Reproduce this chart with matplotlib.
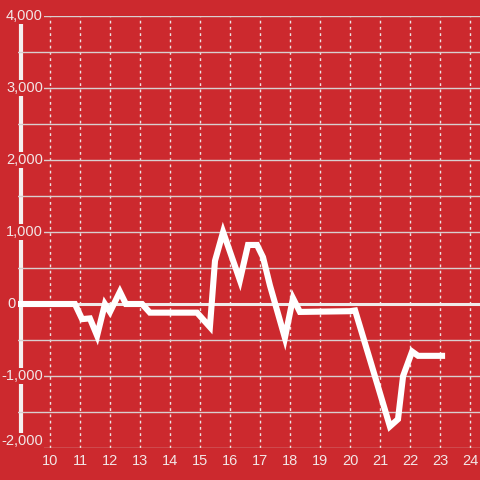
import matplotlib
matplotlib.use("Agg")
import matplotlib.pyplot as plt

plt.rcParams['font.family'] = ['Liberation Sans', 'DejaVu Sans']

# data
hours = [8.93, 10.83, 11.07, 11.33, 11.57, 11.83, 12.0, 12.33, 12.53, 13.07, 13.33,
         14.9, 15.33, 15.5, 15.77, 16.33, 16.6, 16.9, 17.1, 17.33, 17.83, 18.1,
         18.33, 20.0, 20.17, 20.67, 21.33, 21.6, 21.77, 22.07, 22.27, 23.17]
values = [0, 0, -210, -200, -440, 0, -110, 170, 0, 0, -120,
          -120, -320, 600, 1000, 330, 820, 820, 650, 260, -470, 80,
          -110, -100, -90, -780, -1700, -1600, -1000, -660, -720, -720]
x_ticks = list(range(10, 25))
y_major = [-2000, -1000, 0, 1000, 2000, 3000, 4000]
y_minor = [-1500, -500, 500, 1500, 2500, 3500]
y_labels = ["-2,000", "-1,000", "0", "1,000", "2,000", "3,000", "4,000"]

bg = '#CC292E'
txt = '#F2E6E6'

W = 480.0
ax_left_px, ax_w_px = 18, 462
fig = plt.figure(figsize=(4.8, 4.8), dpi=100, facecolor=bg)
ax = fig.add_axes([ax_left_px/W, 32/W, ax_w_px/W, 432/W], facecolor=bg)
x0 = 10 - (50 - ax_left_px) / 30.0
ax.set_xlim(x0, x0 + ax_w_px / 30.0)
ax.set_ylim(-2000, 4000)
for s in ax.spines.values():
    s.set_visible(False)

ax.set_axisbelow(True)
ax.set_xticks(x_ticks)
ax.set_xticklabels([str(t) for t in x_ticks])
ax.set_yticks(y_major)
ax.set_yticklabels([])
ax.set_yticks(y_minor, minor=True)
ax.tick_params(axis='both', which='both', length=0, colors=txt, labelsize=10.5)
ax.tick_params(axis='x', pad=4)

ax.grid(axis='y', which='both', color='#D9CFCF', linewidth=1.0)
ax.grid(axis='x', which='major', color='#EDE3E3', linewidth=1.0, linestyle=(0, (2, 2.5)))

# left white bar
bar_x = x0 + 2.5 / 30.0
ax.plot([bar_x, bar_x], [-1833, 3890], color='#F5F0F0', linewidth=3, zorder=0.3,
        solid_capstyle='butt')
# zero line
ax.axhline(0, color='#F0EAEA', linewidth=2.2, zorder=1)

ax.plot(hours, values, color='white', linewidth=4.4, solid_joinstyle='miter',
        solid_capstyle='butt', zorder=3)

# y tick labels with background boxes
ytr = ax.get_yaxis_transform()
for v, lab in zip(y_major, y_labels):
    right_px = 16 if v == 0 else 43
    xa = (right_px - ax_left_px) / ax_w_px
    va = 'bottom' if v == y_major[0] else 'center'
    ax.text(xa, v, lab, transform=ytr, ha='right', va=va, color=txt,
            fontsize=10.5, zorder=0.6, clip_on=False,
            bbox=dict(facecolor=bg, edgecolor='none', pad=1))

fig.savefig('out.png', dpi=100, facecolor=bg)
